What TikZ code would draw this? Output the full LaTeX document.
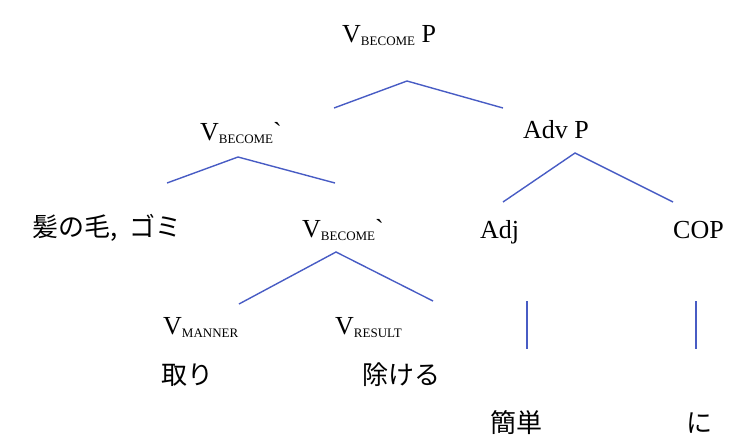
\documentclass[tikz,border=0pt]{standalone}
\usepackage{fontspec}
\setmainfont{Liberation Serif}
\newfontfamily\jpfont{Noto Sans CJK JP}
\usepackage{tikz}
\definecolor{treeblue}{RGB}{72,92,196}
\newcommand{\lo}[1]{\raisebox{-3pt}{\fontsize{13}{13}\selectfont #1}}

\begin{document}
\begin{tikzpicture}[x=1pt,y=-1pt,
    lbl/.style={inner sep=0pt,anchor=base west,font=\fontsize{26}{30}\selectfont},
    jp/.style={inner sep=0pt,anchor=base west,font=\fontsize{26}{30}\selectfont\jpfont},
    branch/.style={draw=treeblue,line width=1.4pt}]
    \useasboundingbox (0,0) rectangle (744,445);

    %top
    \node[lbl] (vbp) at (342,42) {V\lo{BECOME} P};

    %second row
    \node[lbl] (vb1) at (200,140) {V\lo{BECOME}\textasciigrave};
    \node[lbl] (advp) at (523,138) {Adv P};

    %third row
    \node[jp] (hair) at (32,236) {髪の毛,\hspace{12pt}ゴミ};
    \node[lbl] (vb2) at (302,237) {V\lo{BECOME}\textasciigrave};
    \node[lbl] (adj) at (480,238) {Adj};
    \node[lbl] (cop) at (673,238) {COP};

    %fourth row
    \node[lbl] (vman) at (163,334) {V\lo{MANNER}};
    \node[lbl] (vres) at (335,334) {V\lo{RESULT}};
    \node[jp] (tori) at (161,384) {取り};
    \node[jp] (nozo) at (362,384) {除ける};

    %bottom
    \node[jp] (kan) at (490,432) {簡単};
    \node[jp] (ni) at (686,432) {に};

    %branch ends
    \coordinate (t0) at (407,81);
    \coordinate (t1) at (334,108);
    \coordinate (t2) at (503,108);
    \coordinate (b0) at (238,157);
    \coordinate (b1) at (167,183);
    \coordinate (b2) at (335,183);
    \coordinate (d0) at (575,153);
    \coordinate (d1) at (503,202);
    \coordinate (d2) at (673,202);
    \coordinate (v0) at (336,252);
    \coordinate (v1) at (239,304);
    \coordinate (v2) at (433,301);
    \coordinate (k0) at (527,301);
    \coordinate (k1) at (527,349);
    \coordinate (n0) at (696,301);
    \coordinate (n1) at (696,349);

    \draw[branch] (t1) -- (t0) -- (t2);
    \draw[branch] (b1) -- (b0) -- (b2);
    \draw[branch] (d1) -- (d0) -- (d2);
    \draw[branch] (v1) -- (v0) -- (v2);
    \draw[branch] (k0) -- (k1);
    \draw[branch] (n0) -- (n1);

\end{tikzpicture}
\end{document}
